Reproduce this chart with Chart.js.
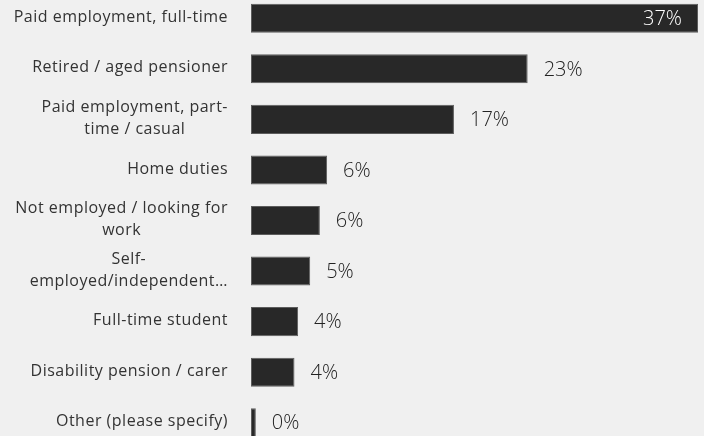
<!DOCTYPE html>
<html>
<head>
<meta charset="utf-8">
<script src="https://cdn.jsdelivr.net/npm/chart.js@4"></script>
<style>
  html, body { margin: 0; padding: 0; background: #f0f0f0; overflow: hidden; width: 704px; height: 436px; }
  #wrap { position: absolute; left: 0; top: -7px; width: 704px; height: 455px; }
</style>
</head>
<body>
<div id="wrap"><canvas id="c"></canvas></div>
<script>
const categories = [
  ["Paid employment, full-time"],
  ["Retired / aged pensioner"],
  ["Paid employment, part-", "time / casual"],
  ["Home duties"],
  ["Not employed / looking for", "work"],
  ["Self-", "employed/independent…"],
  ["Full-time student"],
  ["Disability pension / carer"],
  ["Other (please specify)"]
];
const values = [37, 22.9, 16.8, 6.3, 5.7, 4.9, 3.9, 3.6, 0.4];
const valueLabels = ["37%", "23%", "17%", "6%", "6%", "5%", "4%", "4%", "0%"];

const FONT = "'Open Sans', sans-serif";

const labelPlugin = {
  id: 'labels',
  afterDatasetsDraw(chart) {
    const ctx = chart.ctx;
    const yScale = chart.scales.y;
    const meta = chart.getDatasetMeta(0);
    ctx.save();
    // category labels
    ctx.font = "16px " + FONT;
    ctx.letterSpacing = "0.5px";
    ctx.fillStyle = "#333333";
    ctx.textAlign = "center";
    ctx.textBaseline = "middle";
    const rightEdge = 228;
    const lineH = 22;
    categories.forEach((lines, i) => {
      const yc = yScale.getPixelForValue(i);
      const w = Math.max(...lines.map(l => ctx.measureText(l).width));
      const cx = rightEdge - w / 2;
      lines.forEach((l, j) => {
        const y = yc + (j - (lines.length - 1) / 2) * lineH - 1;
        ctx.fillText(l, cx, y);
      });
    });
    // value labels
    ctx.letterSpacing = "0px";
    ctx.font = "300 20px " + FONT;
    meta.data.forEach((bar, i) => {
      if (i === 0) {
        ctx.textAlign = "right";
        ctx.fillStyle = "#ffffff";
        ctx.fillText(valueLabels[i], bar.x - 16, bar.y + 1);
      } else {
        ctx.textAlign = "left";
        ctx.fillStyle = "#222222";
        ctx.fillText(valueLabels[i], bar.x + 16, bar.y + 1);
      }
    });
    ctx.restore();
  }
};

new Chart(document.getElementById('c'), {
  type: 'bar',
  data: {
    labels: categories,
    datasets: [{
      data: values,
      backgroundColor: '#282828',
      borderColor: '#5c5c5c',
      borderWidth: 1,
      borderSkipped: false,
      barPercentage: 0.575,
      categoryPercentage: 1
    }]
  },
  options: {
    indexAxis: 'y',
    responsive: true,
    maintainAspectRatio: false,
    animation: false,
    layout: { padding: { left: 251, right: 6, top: 0, bottom: 0 } },
    plugins: { legend: { display: false }, tooltip: { enabled: false } },
    scales: {
      x: { display: false, min: 0, max: 37 },
      y: { display: false }
    }
  },
  plugins: [labelPlugin]
});
</script>
</body>
</html>
